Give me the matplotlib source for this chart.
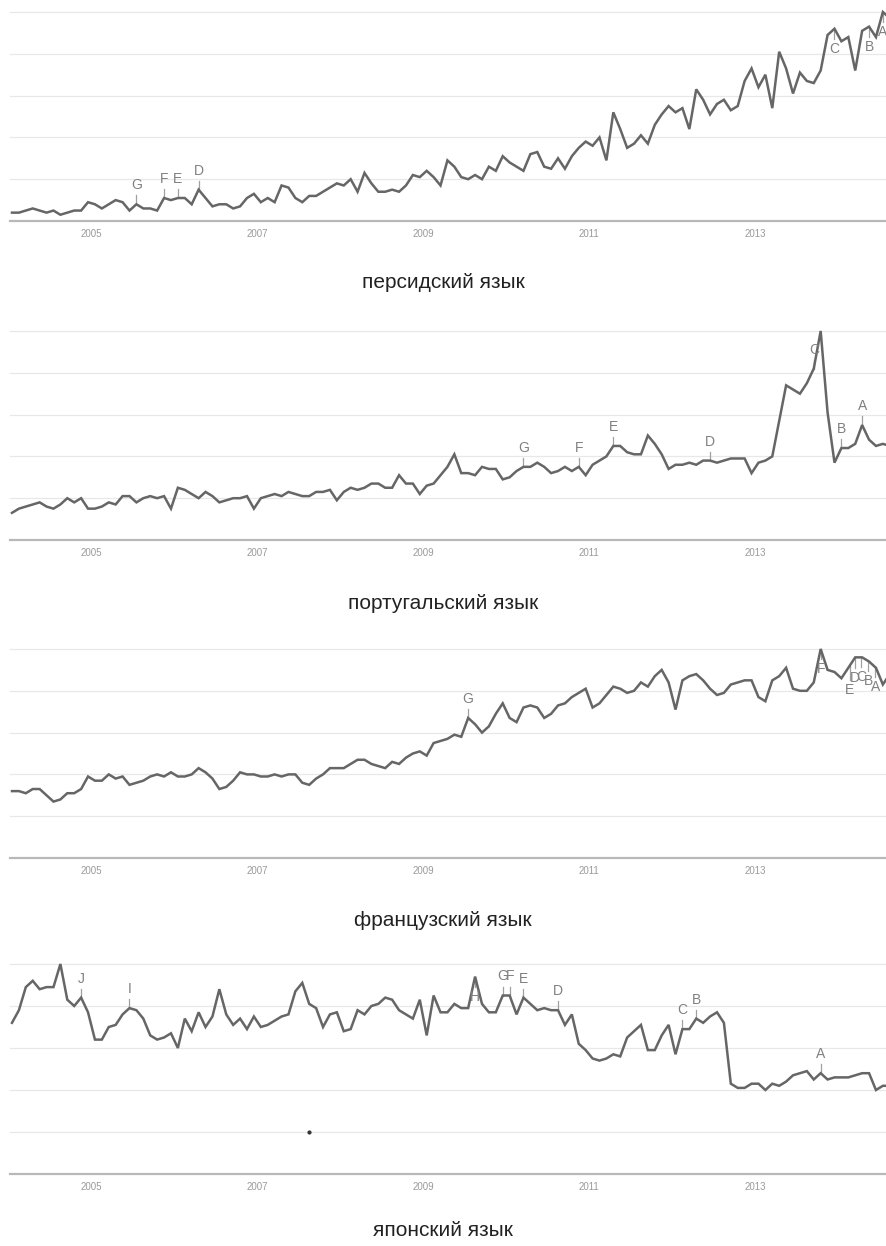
#importing libraries
import matplotlib
matplotlib.use("Agg")
import matplotlib.pyplot as plt
import numpy as np

## data (monthly search interest, Jan 2004 ...)
persian = [4, 4, 5, 6, 5, 4, 5, 3, 4, 5,
           5, 9, 8, 6, 8, 10, 9, 5, 8, 6,
           6, 5, 11, 10, 11, 11, 8, 15, 11, 7,
           8, 8, 6, 7, 11, 13, 9, 11, 9, 17,
           16, 11, 9, 12, 12, 14, 16, 18, 17, 20,
           14, 23, 18, 14, 14, 15, 14, 17, 22, 21,
           24, 21, 17, 29, 26, 21, 20, 22, 20, 26,
           24, 31, 28, 26, 24, 32, 33, 26, 25, 30,
           25, 31, 35, 38, 36, 40, 29, 52, 44, 35,
           37, 41, 37, 46, 51, 55, 52, 54, 44, 63,
           58, 51, 56, 58, 53, 55, 67, 73, 64, 70,
           54, 81, 73, 61, 71, 67, 66, 72, 89, 92,
           86, 88, 72, 91, 93, 88, 100, 97]

portuguese = [13, 15, 16, 17, 18, 16, 15, 17, 20, 18,
              20, 15, 15, 16, 18, 17, 21, 21, 18, 20,
              21, 20, 21, 15, 25, 24, 22, 20, 23, 21,
              18, 19, 20, 20, 21, 15, 20, 21, 22, 21,
              23, 22, 21, 21, 23, 23, 24, 19, 23, 25,
              24, 25, 27, 27, 25, 25, 31, 27, 27, 22,
              26, 27, 31, 35, 41, 32, 32, 31, 35, 34,
              34, 29, 30, 33, 35, 35, 37, 35, 32, 33,
              35, 33, 35, 31, 36, 38, 40, 45, 45, 42,
              41, 41, 50, 46, 41, 34, 36, 36, 37, 36,
              38, 38, 37, 38, 39, 39, 39, 32, 37, 38,
              40, 57, 74, 72, 70, 75, 82, 100, 61, 37,
              44, 44, 46, 55, 48, 45, 46, 45]

french = [32, 32, 31, 33, 33, 30, 27, 28, 31, 31,
          33, 39, 37, 37, 40, 38, 39, 35, 36, 37,
          39, 40, 39, 41, 39, 39, 40, 43, 41, 38,
          33, 34, 37, 41, 40, 40, 39, 39, 40, 39,
          40, 40, 36, 35, 38, 40, 43, 43, 43, 45,
          47, 47, 45, 44, 43, 46, 45, 48, 50, 51,
          49, 55, 56, 57, 59, 58, 67, 64, 60, 63,
          69, 74, 67, 65, 72, 73, 72, 67, 69, 73,
          74, 77, 79, 81, 72, 74, 78, 82, 81, 79,
          80, 84, 82, 87, 90, 84, 71, 85, 87, 88,
          85, 81, 78, 79, 83, 84, 85, 85, 77, 75,
          85, 87, 91, 81, 80, 80, 84, 100, 90, 89,
          86, 91, 96, 96, 94, 91, 83, 88]

japanese = [72, 78, 89, 92, 88, 89, 89, 100, 83, 80,
            84, 77, 64, 64, 70, 71, 76, 79, 78, 74,
            66, 64, 65, 67, 60, 74, 68, 77, 70, 75,
            88, 76, 71, 74, 69, 75, 70, 71, 73, 75,
            76, 87, 91, 81, 79, 70, 76, 77, 68, 69,
            78, 76, 80, 81, 84, 83, 78, 76, 74, 83,
            66, 85, 77, 77, 81, 79, 79, 94, 81, 77,
            77, 85, 85, 76, 84, 81, 78, 79, 78, 78,
            71, 76, 62, 59, 55, 54, 55, 57, 56, 65,
            68, 71, 59, 59, 66, 71, 57, 69, 69, 74,
            72, 75, 77, 72, 43, 41, 41, 43, 43, 40,
            43, 42, 44, 47, 48, 49, 45, 48, 45, 46,
            46, 46, 47, 48, 48, 40, 42, 42]

# news markers: letter and month index
notes_persian = [("G", 18), ("F", 22), ("E", 24), ("D", 27),
                 ("C", 119), ("B", 124), ("A", 126)]
notes_portuguese = [("G", 74), ("F", 82), ("E", 87), ("D", 101),
                    ("C", 116), ("B", 120), ("A", 123)]
notes_french = [("G", 66), ("F", 117), ("E", 121.2), ("D", 121.9),
                ("C", 122.9), ("B", 123.9), ("A", 124.9)]
notes_japanese = [("J", 10), ("I", 17), ("H", 67), ("G", 71), ("F", 72),
                  ("E", 74), ("D", 79), ("C", 97), ("B", 99), ("A", 117)]

titles = ["персидский язык", "португальский язык",
          "французский язык", "японский язык"]
year_ticks = [2005, 2007, 2009, 2011, 2013]
stray_dot = (43, 20)   # little dot on the japanese chart

### layout (pixels) ###
W, H = 886, 1246
AX_LEFT = 10
PX_PER_YEAR = 82.94
FIRST_PX = 12           # where the first month sits
panel_tops = [12, 331, 649, 964]
panel_bottoms = [221, 540, 858, 1174]
title_y = [283, 604, 920, 1231]

LINE_COLOR = "#666666"
NOTE_COLOR = "#808080"


def month_to_year(m):
    return 2004 + (np.asarray(m, dtype=float) + 0.5) / 12.0


def draw_panel(ax, values, notes, hpx, extra=None):
    extra = extra or {}
    months = np.arange(len(values))
    xs = month_to_year(months)
    x0 = month_to_year(0) - (FIRST_PX - AX_LEFT) / PX_PER_YEAR
    x1 = x0 + (W - AX_LEFT) / PX_PER_YEAR
    ax.set_xlim(x0, x1)
    ax.set_ylim(0, 100)

    # grid
    ax.set_yticks([20, 40, 60, 80, 100])
    ax.yaxis.grid(True, color="#e8e8e8", lw=0.9)
    for gl in ax.get_ygridlines():
        gl.set_clip_on(False)
    ax.set_axisbelow(True)
    ax.tick_params(axis="y", length=0, labelleft=False)

    for s in ["top", "left", "right"]:
        ax.spines[s].set_visible(False)
    ax.spines["bottom"].set_color("#b8b8b8")
    ax.spines["bottom"].set_linewidth(1.6)

    ax.set_xticks(year_ticks)
    ax.set_xticklabels([str(y) for y in year_ticks],
                       family=["Liberation Sans Narrow", "Liberation Sans"],
                       fontsize=7, color="#9a9a9a")
    ax.tick_params(axis="x", length=0, pad=6)

    ax.plot(xs, values, color=LINE_COLOR, lw=1.8, clip_on=False,
            solid_joinstyle="miter", zorder=3)

    # letters with small ticks
    per_px = 100.0 / hpx
    for letter, m in notes:
        x = month_to_year(m)
        y = np.interp(m, months, values)
        add = extra.get(letter, 0)
        if y > 88:
            tick = 10 + add
            ax.plot([x, x], [y, y - tick * per_px], color="#a0a0a0",
                    lw=0.9, clip_on=False, zorder=2)
            ax.annotate(letter, xy=(x, y), xytext=(0, -(tick + 3) * 0.72),
                        textcoords="offset points", ha="center", va="top",
                        fontsize=10, color=NOTE_COLOR,
                        family="Liberation Sans", zorder=4)
        else:
            tick = 9 + add
            ax.plot([x, x], [y, y + tick * per_px], color="#a0a0a0",
                    lw=0.9, clip_on=False, zorder=2)
            ax.annotate(letter, xy=(x, y), xytext=(0, (tick + 3) * 0.72),
                        textcoords="offset points", ha="center", va="bottom",
                        fontsize=10, color=NOTE_COLOR,
                        family="Liberation Sans", zorder=4)


if __name__ == "__main__":
    fig = plt.figure(figsize=(W / 100, H / 100), dpi=100)
    fig.patch.set_facecolor("white")

    series = [persian, portuguese, french, japanese]
    all_notes = [notes_persian, notes_portuguese, notes_french, notes_japanese]
    extras = [None, None, {"E": 4}, None]

    for i in range(4):
        top, bot = panel_tops[i], panel_bottoms[i]
        hpx = bot - top
        ax = fig.add_axes([AX_LEFT / W, 1 - bot / H, (W - AX_LEFT) / W, hpx / H])
        ax.set_facecolor("none")
        draw_panel(ax, series[i], all_notes[i], hpx, extras[i])
        fig.text(0.5, 1 - title_y[i] / H, titles[i], ha="center", va="center",
                 fontsize=15, color="#222222", family="Liberation Sans")
        if i == 3:
            ax.plot(month_to_year(stray_dot[0]), stray_dot[1], "o", ms=2,
                    color="#333333", zorder=3)

    fig.savefig("out.png", dpi=100, facecolor="white")
